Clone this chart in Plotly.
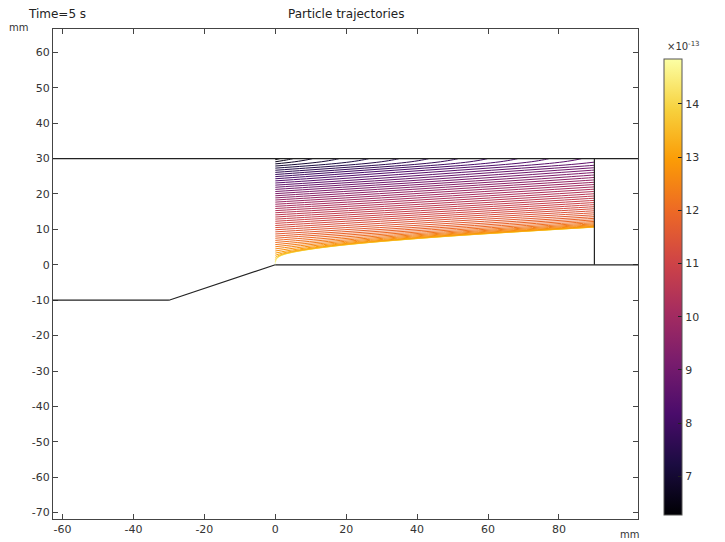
import plotly.graph_objects as go
from plotly.colors import sample_colorscale

# ---------------- data ----------------
# release heights of the particles at the inlet x = 0 (mm)
release_y = [0.3, 0.9, 1.5, 2.1, 2.7, 3.3, 3.9, 4.5, 5.1, 5.7,
             6.3, 6.9, 7.5, 8.1, 8.7, 9.3, 9.9, 10.5, 11.1, 11.7,
             12.3, 12.9, 13.5, 14.1, 14.7, 15.3, 15.9, 16.5, 17.1, 17.7,
             18.3, 18.9, 19.5, 20.1, 20.7, 21.3, 21.9, 22.5, 23.1, 23.7,
             24.3, 24.9, 25.5, 26.1, 26.7, 27.3, 27.9, 28.5, 29.1, 29.7]
wall_y = 30.0
# downstream distance (mm) along the common drift path at which a particle
# reaches each of the heights above (last value: the upper wall)
path_s = [0.0, 0.08, 0.3, 0.8, 1.9, 3.9, 6.9, 10.7, 15.2, 20.5,
          26.7, 33.7, 41.3, 49.4, 58.4, 68.0, 77.8, 87.7, 97.5, 107.4,
          117.4, 127.5, 137.7, 147.9, 158.2, 168.5, 178.8, 189.0, 199.2, 209.3,
          219.3, 229.2, 239.0, 248.7, 258.3, 267.8, 277.2, 286.5, 296.0, 305.2,
          314.0, 322.5, 330.8, 339.1, 347.5, 356.0, 364.4, 371.9, 377.4, 381.1,
          382.4]
# colour expression of each particle (x 1e-13)
particle_value = [14.85, 14.25, 13.80, 13.42, 13.12, 12.90, 12.70, 12.52, 12.36, 12.22,
                  12.09, 11.97, 11.85, 11.74, 11.63, 11.52, 11.41, 11.30, 11.19, 11.08,
                  10.97, 10.86, 10.75, 10.63, 10.51, 10.39, 10.26, 10.13, 10.00, 9.86,
                  9.72, 9.57, 9.42, 9.27, 9.12, 8.97, 8.81, 8.65, 8.49, 8.33,
                  8.16, 7.98, 7.80, 7.62, 7.43, 7.24, 7.04, 6.84, 6.60, 6.28]
colorbar_range = [6.28, 14.85]
colorbar_ticks = [7, 8, 9, 10, 11, 12, 13, 14]
outlet_x = 90.0

# geometry boundary polylines (mm)
geom_top_x = [-62.7, 102.3]; geom_top_y = [30, 30]
geom_floor_x = [0, 102.3]; geom_floor_y = [0, 0]
geom_ramp_x = [-62.7, -30, 0]; geom_ramp_y = [-10, -10, 0]
geom_outlet_x = [90, 90]; geom_outlet_y = [0, 30]

x_ticks = [-60, -40, -20, 0, 20, 40, 60, 80]
y_ticks = [-70, -60, -50, -40, -30, -20, -10, 0, 10, 20, 30, 40, 50, 60]
x_range = [-62.7, 102.3]
y_range = [-71.8, 66.6]

# ---------------- figure ----------------
FONT = "DejaVu Sans"
cmin, cmax = colorbar_range
path_y = release_y + [wall_y]

# the page body adds an 8 px offset; target pixel positions are in window coords
OFF = 8
W, H = 725 - OFF, 542 - OFF
PL, PR, PT, PB = 52.7 - OFF, 638.3 - OFF, 29.3 - OFF, 519.3 - OFF


def px_x(p):
    return (p - OFF - PL) / (PR - PL)


def px_y(p):
    return (PB - (p - OFF)) / (PB - PT)


fig = go.Figure()
for k in range(len(release_y)):
    xs, ys = [], []
    for j in range(k, len(path_s)):
        xs.append(round(path_s[j] - path_s[k], 3))
        ys.append(path_y[j])
        if xs[-1] >= outlet_x:
            break
    col = sample_colorscale("Inferno", [(particle_value[k] - cmin) / (cmax - cmin)])[0]
    fig.add_trace(go.Scatter(x=xs, y=ys, mode="lines",
                             line=dict(color=col, width=1, shape="spline", smoothing=1),
                             hoverinfo="skip", showlegend=False))

# colour bar
fig.add_trace(go.Scatter(
    x=[None], y=[None], mode="markers", showlegend=False, hoverinfo="skip",
    marker=dict(color=[cmin], colorscale="Inferno", cmin=cmin, cmax=cmax, showscale=True,
                colorbar=dict(thickness=18, thicknessmode="pixels", len=456, lenmode="pixels",
                              x=px_x(664), xanchor="left", xpad=0,
                              y=px_y(287), yanchor="middle", ypad=0,
                              outlinewidth=1, outlinecolor="#555",
                              tickvals=colorbar_ticks, ticktext=[str(t) for t in colorbar_ticks],
                              ticks="inside", ticklen=4, tickcolor="#222",
                              tickfont=dict(family=FONT, size=11, color="#333")))))

shapes = [dict(type="rect", xref="x", yref="y", x0=outlet_x, x1=100.5, y0=0, y1=wall_y,
               fillcolor="white", line=dict(width=0), layer="above")]
for gx, gy in [(geom_top_x, geom_top_y), (geom_floor_x, geom_floor_y),
               (geom_ramp_x, geom_ramp_y), (geom_outlet_x, geom_outlet_y)]:
    for i in range(len(gx) - 1):
        shapes.append(dict(type="line", xref="x", yref="y", x0=gx[i], y0=gy[i],
                           x1=gx[i + 1], y1=gy[i + 1], layer="above",
                           line=dict(color="#222", width=1.2)))

axis_common = dict(showline=True, linecolor="#444", linewidth=1, mirror="ticks",
                   ticks="inside", ticklen=5, tickcolor="#444", showgrid=False,
                   zeroline=False, automargin=False,
                   tickfont=dict(family=FONT, size=11, color="#333"))

fig.update_layout(
    width=W, height=H, autosize=False,
    margin=dict(l=PL, r=W - PR, t=PT, b=H - PB, autoexpand=False),
    paper_bgcolor="white", plot_bgcolor="white",
    xaxis=dict(range=x_range, tickvals=x_ticks, ticktext=[str(v) for v in x_ticks],
               **axis_common),
    yaxis=dict(range=y_range, tickvals=y_ticks, ticktext=[str(v) for v in y_ticks],
               **axis_common),
    shapes=shapes,
    annotations=[
        dict(text="Particle trajectories", xref="paper", yref="paper", x=0.5, y=px_y(14),
             showarrow=False, xanchor="center", yanchor="middle",
             font=dict(family=FONT, size=12, color="#222")),
        dict(text="Time=5 s", xref="paper", yref="paper", x=px_x(26), y=px_y(14),
             showarrow=False, xanchor="left", yanchor="middle",
             font=dict(family=FONT, size=12, color="#222")),
        dict(text="mm", xref="paper", yref="paper", x=px_x(18), y=px_y(28),
             showarrow=False, xanchor="center", yanchor="middle",
             font=dict(family=FONT, size=10, color="#333")),
        dict(text="mm", xref="paper", yref="paper", x=px_x(630), y=px_y(535),
             showarrow=False, xanchor="center", yanchor="middle",
             font=dict(family=FONT, size=10, color="#333")),
        dict(text="×10<sup>-13</sup>", xref="paper", yref="paper", x=px_x(684), y=px_y(46),
             showarrow=False, xanchor="center", yanchor="middle",
             font=dict(family=FONT, size=10, color="#333")),
    ],
)

fig.write_html("out.html")
